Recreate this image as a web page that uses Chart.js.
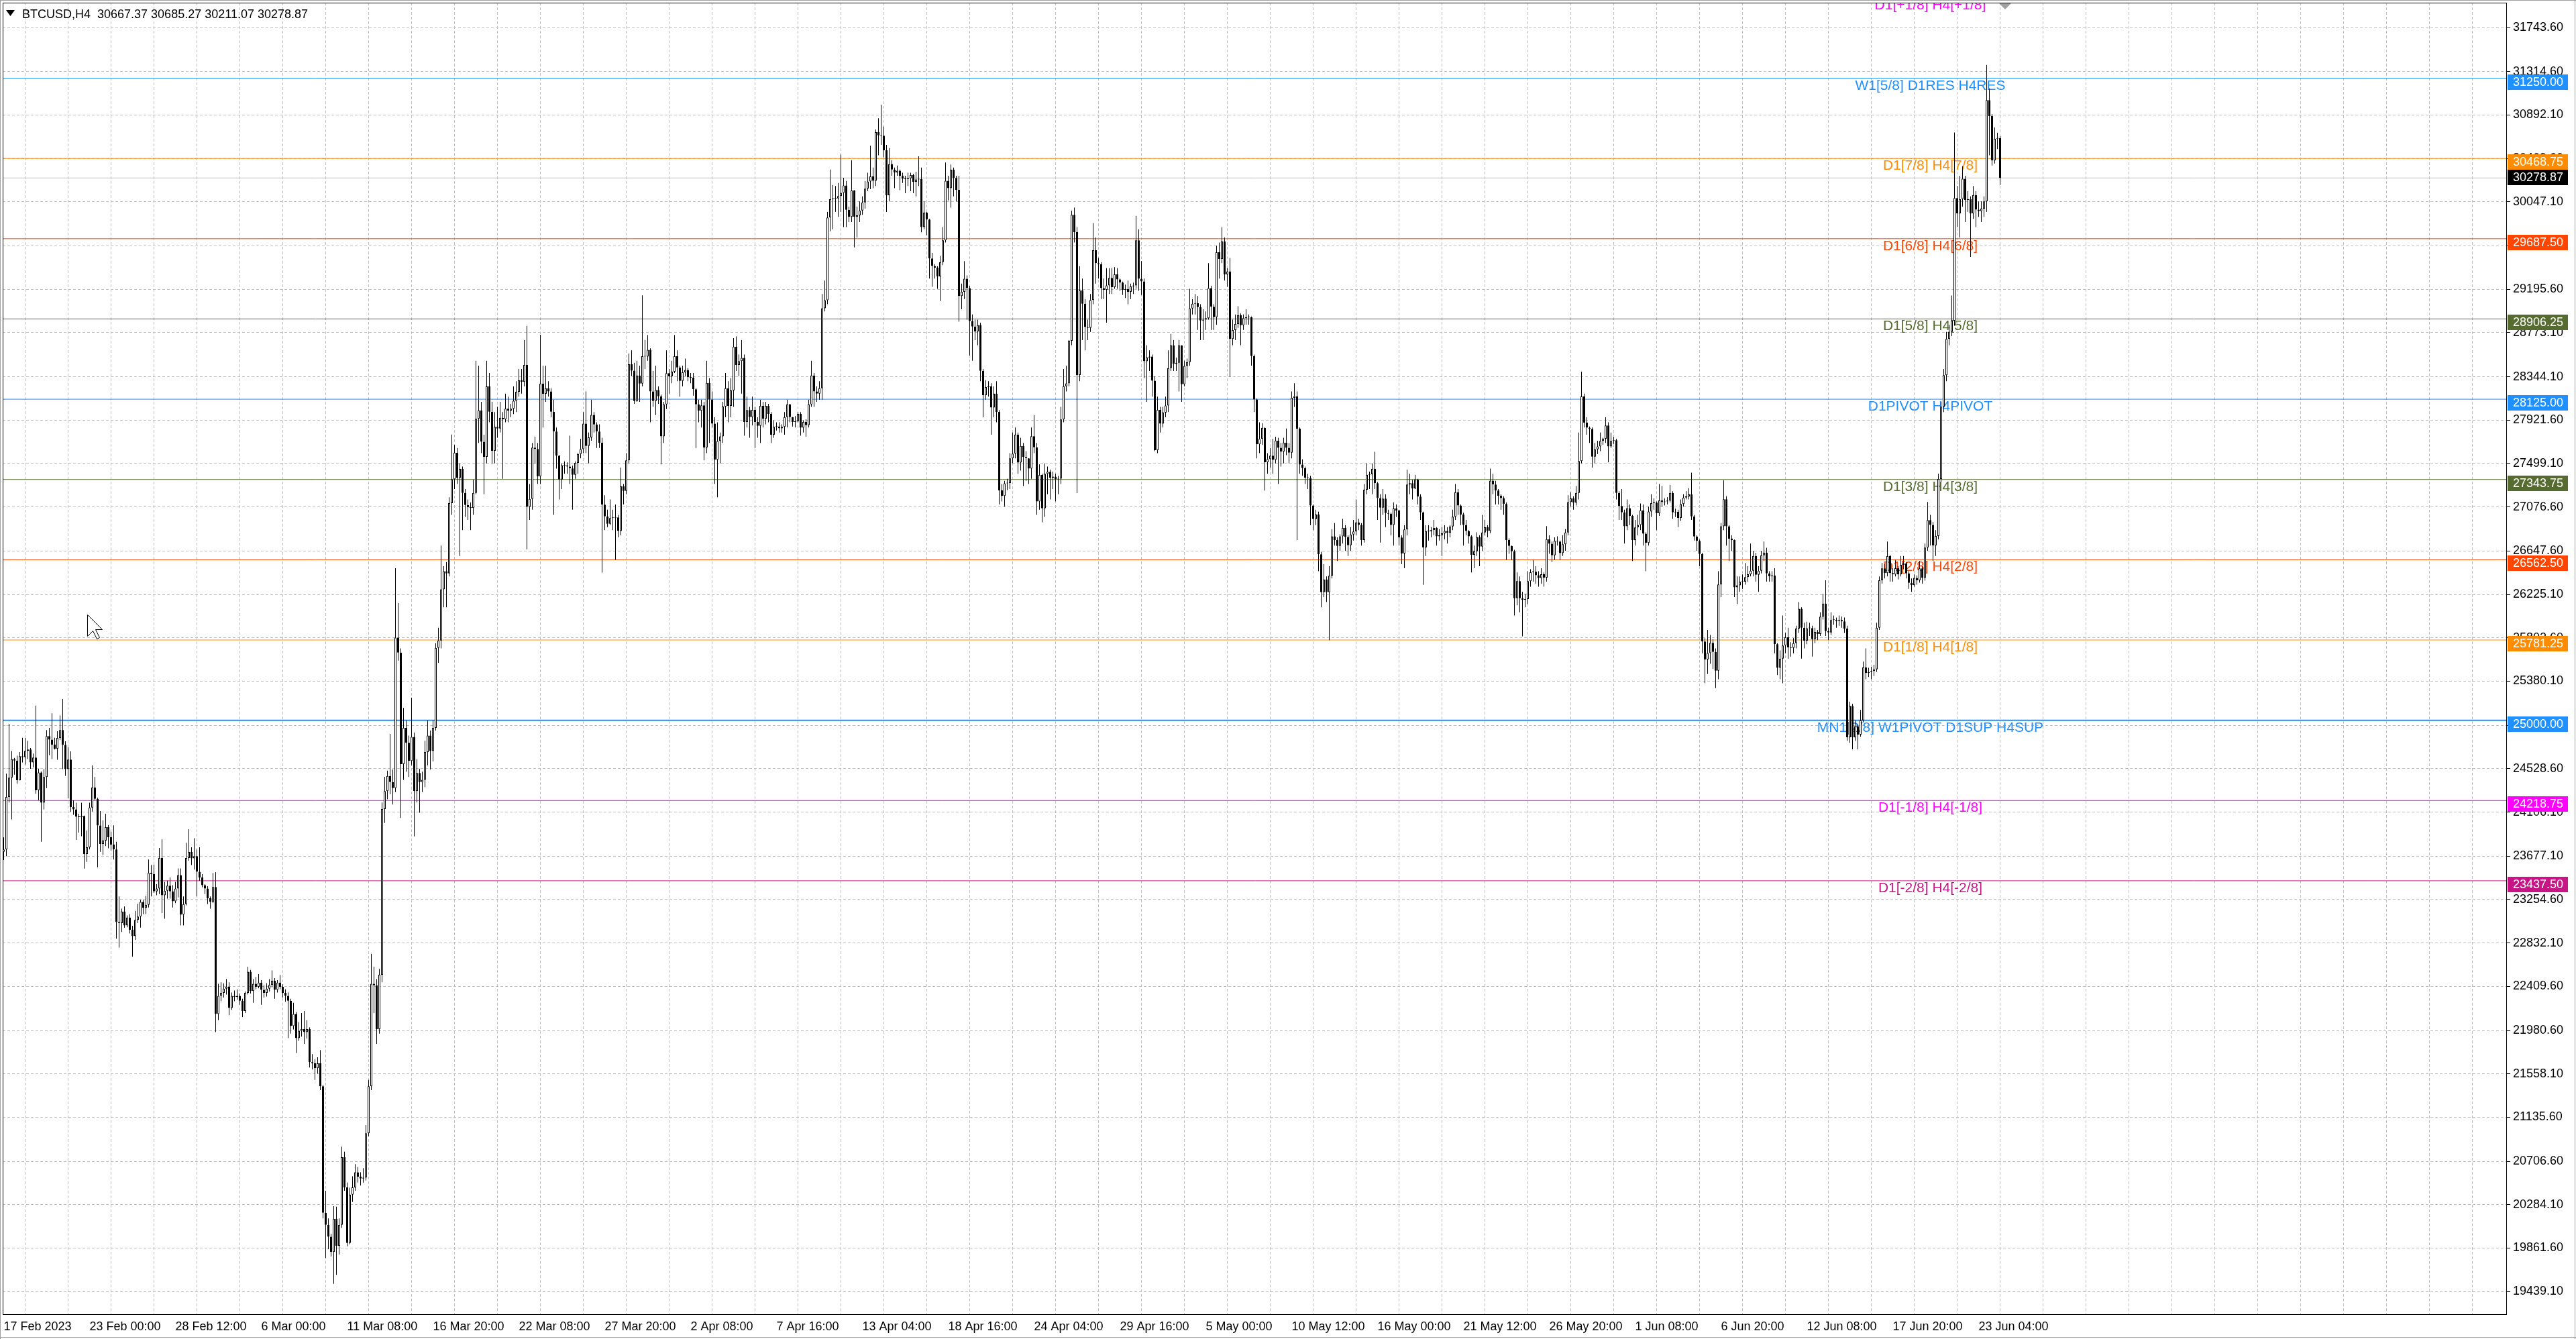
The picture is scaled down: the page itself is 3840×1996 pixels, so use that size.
<!DOCTYPE html>
<html>
<head>
<meta charset="utf-8">
<title>BTCUSD,H4</title>
<script src="https://cdn.jsdelivr.net/npm/chart.js@4.4.1/dist/chart.umd.min.js"></script>
<style>
  html, body { margin: 0; padding: 0; background: #ffffff; overflow: hidden; }
  canvas { display: block; }
</style>
</head>
<body>
<canvas id="chart" width="3840" height="1996" style="width:3840px;height:1996px"></canvas>
<script>
/* ============================================================
   BTCUSD H4 candles + Murrey levels, MT4 look
   ============================================================ */

// ── Data: H4 bars, 17 Feb 2023 → 24 Jun 2023 ──────────────
const firstOpen = 23720;

const closes = [
  /*   0 */ 23742,24253,24441,24622,24607,24415,24650,24640,24702,24715,24589,24637,24318,24492,24198,24448,
  /*  16 */ 24846,24811,24763,24724,24828,24904,24759,24524,24618,24155,24133,24061,24057,24068,23699,23764,
  /*  32 */ 24150,24346,24235,23975,23796,23829,23959,23862,23790,23742,23036,23025,23138,23003,23079,22960,
  /*  48 */ 22899,23057,23090,23231,23173,23203,23514,23503,23334,23362,23659,23297,23340,23390,23334,23238,
  /*  64 */ 23362,23492,23107,23210,23659,23720,23655,23677,23525,23470,23394,23362,23268,23231,23377,22141,
  /*  80 */ 22317,22346,22387,22405,22200,22317,22305,22317,22270,22170,22346,22552,22364,22435,22405,22446,
  /*  96 */ 22376,22346,22387,22423,22464,22376,22446,22405,22346,22317,22270,22024,22141,21906,21977,21994,
  /* 112 */ 21965,21994,21672,21660,21613,21660,21437,20206,20089,19972,19825,20148,19884,20089,20746,20452,
  /* 128 */ 19913,20382,20452,20599,20558,20540,20547,20980,21437,22434,22420,21994,22522,24135,24310,24457,
  /* 144 */ 24398,24340,25805,25659,24574,24926,24780,24604,24838,24310,24486,24398,24420,24691,24850,24700,
  /* 160 */ 24926,25705,25776,26274,26450,26430,27113,27347,27605,27359,27447,27213,27095,27075,27066,27213,
  /* 176 */ 27934,28016,27711,27564,28250,28004,27623,27857,27840,27945,27930,28033,28015,28033,28110,28198,
  /* 192 */ 28309,28294,28459,27078,27155,27654,27640,27374,28278,28178,28231,28200,28004,27810,27576,27343,
  /* 208 */ 27483,27480,27470,27452,27389,27505,27592,27639,27888,27670,27754,27972,27879,27810,27701,27099,
  /* 224 */ 26984,26912,26968,26972,26975,26843,27279,27233,27530,28465,28403,28107,28356,28278,28543,28540,
  /* 240 */ 28606,28200,28107,28216,28153,27764,28075,28378,28347,28394,28543,28434,28303,28387,28409,28340,
  /* 256 */ 28334,28222,28075,28013,28066,27654,28284,28122,27888,27536,27717,27763,28054,28231,28060,28210,
  /* 272 */ 28637,28459,28496,28528,27904,28019,27951,28022,27904,27866,28060,27935,28060,27982,27779,27857,
  /* 288 */ 27860,27842,27857,27951,28075,27951,27904,27910,27982,27848,27904,27873,28075,28356,28200,28180,
  /* 304 */ 28231,29011,29089,29894,30071,30078,30080,30102,30134,30205,29968,29900,30156,29900,29915,29962,
  /* 320 */ 30040,30174,30244,30293,30252,30725,30693,30690,30549,30109,30414,30360,30333,30350,30298,30271,
  /* 336 */ 30268,30275,30306,30239,30265,30270,29801,29941,29874,29495,29422,29406,29320,29460,29671,30252,
  /* 352 */ 30179,30360,30279,30163,29130,29171,29298,29206,28887,28833,28784,28847,28401,28163,28244,28250,
  /* 368 */ 28044,28179,28001,27238,27184,27306,27310,27549,27595,27779,27508,27671,27563,27549,27449,27765,
  /* 384 */ 27657,27130,27387,27063,27400,27419,27360,27372,27346,27352,27928,28252,28279,28693,29920,29752,
  /* 400 */ 28360,29184,29055,28828,28820,29090,29576,29449,29440,29206,29190,29233,29306,29217,29341,29292,
  /* 416 */ 29260,29190,29198,29171,29225,29232,29671,29298,29271,28495,28530,28540,28306,27630,28022,27887,
  /* 432 */ 27995,28063,28428,28649,28468,28480,28649,28271,28449,28487,29009,29055,29060,29022,28892,28900,
  /* 448 */ 28914,29206,29026,28924,29555,29491,29660,29340,29369,28711,28799,28857,28944,28845,28915,28924,
  /* 464 */ 28924,28545,28123,27687,27739,27847,27512,27541,27576,27535,27722,27652,27614,27701,27652,27605,
  /* 480 */ 28138,28153,27838,27489,27454,27361,27358,27090,26959,27003,26616,26246,26371,26246,26406,26790,
  /* 496 */ 26755,26697,26790,26872,26784,26703,26808,26837,26924,26901,26755,27244,27390,27395,27448,27308,
  /* 512 */ 27163,27070,27157,27017,27010,26901,27061,27041,26779,26624,26857,27294,27308,27256,27343,27177,
  /* 528 */ 27023,26683,26843,26840,26850,26872,26790,26800,26819,26843,26825,26886,26982,27220,27090,27003,
  /* 544 */ 26901,26843,26790,26610,26645,26784,26691,26828,26878,26843,27332,27294,27236,27186,27163,27105,
  /* 560 */ 26755,26697,26645,26188,26354,26188,26173,26180,26354,26441,26445,26412,26383,26421,26389,26762,
  /* 576 */ 26719,26605,26746,26740,26627,26713,26827,27124,27159,27119,27213,27524,28151,27897,27848,27835,
  /* 592 */ 27565,27638,27665,27719,27740,27870,27665,27719,27725,27213,27086,27024,26889,27065,26989,26754,
  /* 608 */ 26876,26902,27043,26816,26727,27032,27113,27118,27016,27140,27124,27130,27138,27213,27024,27030,
  /* 624 */ 26970,27105,27167,27178,27200,26984,26789,26746,26619,25767,25592,25654,25754,25665,25483,26321,
  /* 640 */ 26889,27151,26889,26767,26754,26294,26313,26348,26350,26394,26421,26456,26600,26416,26456,26605,
  /* 656 */ 26632,26429,26402,26410,25740,25510,25600,25727,25807,25710,25705,25751,25892,26085,25900,25774,
  /* 672 */ 25895,25898,25790,25860,25840,26009,26136,25868,25854,25976,25978,25966,25976,25962,25892,24834,
  /* 688 */ 25140,24834,24943,24860,24999,25516,25460,25470,25480,25495,25901,26362,26479,26432,26597,26432,
  /* 704 */ 26420,26480,26420,26512,26525,26430,26338,26315,26385,26362,26479,26385,26681,26949,26902,26700,
  /* 720 */ 26794,27349,28053,28359,28711,28782,28890,30083,29933,30074,30271,30064,30074,29933,30112,29970,
  /* 736 */ 29956,29980,30050,31037,30882,30450,30661,30667.37,30278.87
];

const highs = [
  /*   0 */ 23860,24481,24965,24700,24633,24655,24690,24830,24828,24800,24730,24676,25143,24530,24502,24524,
  /*  16 */ 24905,24926,25068,24830,24893,25046,25206,24796,24737,24698,24220,24198,24090,24198,24072,23927,
  /*  32 */ 24198,24561,24448,24246,24116,24024,24090,23981,23916,23977,23818,23286,23166,23188,23100,23110,
  /*  48 */ 23000,23144,23214,23253,23253,23290,23644,23590,23594,23405,23757,23840,23427,23438,23470,23394,
  /*  64 */ 23427,23558,23558,23286,23807,23938,23764,23851,23742,23764,23503,23405,23384,23286,23514,23520,
  /*  80 */ 22434,22450,22440,22480,22450,22350,22370,22380,22340,22290,22360,22600,22570,22480,22500,22530,
  /*  96 */ 22470,22420,22440,22480,22565,22490,22470,22520,22430,22380,22350,22290,22250,22160,22060,22150,
  /* 112 */ 22170,22080,22010,21750,21700,21720,21790,21450,20420,20150,20000,20270,20265,20150,20850,20800,
  /* 128 */ 20500,20450,20560,20680,20650,20600,20640,21060,21500,22727,22600,22480,22580,24200,24450,24510,
  /* 144 */ 24867,24520,26480,26140,25700,25120,25000,24850,25220,24880,24620,24530,24500,24800,25000,24900,
  /* 160 */ 25000,25750,25900,26700,26500,26540,27170,27781,27680,27650,27500,27470,27250,27150,27120,27340,
  /* 176 */ 28500,28450,28100,27780,28500,28380,28100,28000,28050,28100,28000,28180,28150,28080,28250,28300,
  /* 192 */ 28420,28420,28700,28839,27300,27700,27760,27700,28752,28450,28450,28300,28230,28120,27850,27580,
  /* 208 */ 27500,27520,27510,27770,27480,27520,27600,27740,28000,28200,27800,28120,28000,27900,27880,27750,
  /* 224 */ 27190,27050,27150,27050,27100,27000,27460,27300,27600,28570,28600,28480,28500,28450,29136,28700,
  /* 240 */ 28750,28620,28400,28450,28250,28170,28100,28600,28420,28500,28750,28600,28450,28450,28520,28430,
  /* 256 */ 28380,28380,28230,28120,28120,28100,28500,28330,28200,27950,27900,27800,28100,28380,28300,28330,
  /* 272 */ 28720,28736,28560,28700,28560,28150,28050,28150,28050,27950,28120,28100,28100,28080,28000,27920,
  /* 288 */ 27900,27900,27880,28000,28120,28080,27950,27960,28000,28000,27920,27930,28120,28500,28380,28250,
  /* 304 */ 28300,29150,29280,29950,30360,30210,30200,30230,30508,30280,30250,30000,30450,30160,30000,30050,
  /* 320 */ 30100,30250,30330,30592,30380,30750,30860,30990,30780,30600,30570,30450,30380,30400,30360,30330,
  /* 336 */ 30300,30330,30330,30320,30340,30490,30380,30050,29950,29880,29550,29440,29420,29520,29800,30430,
  /* 352 */ 30300,30410,30380,30300,30300,29250,29470,29330,29230,28950,28900,28900,28870,28420,28310,28300,
  /* 368 */ 28280,28250,28300,28020,27300,27330,27350,27600,27800,27850,27800,27750,27700,27620,27550,27850,
  /* 384 */ 27970,27700,27490,27400,27500,27470,27440,27420,27400,27380,28050,28420,28450,28700,29960,29990,
  /* 400 */ 29800,29420,29300,29100,28900,29150,29840,29700,29500,29460,29300,29400,29400,29400,29410,29400,
  /* 416 */ 29300,29270,29240,29280,29250,29260,29910,29780,29470,29300,28650,28600,28560,28350,28150,28050,
  /* 432 */ 28050,28150,28600,28760,28700,28530,28700,28650,28500,28520,29200,29100,29150,29130,29050,29000,
  /* 448 */ 28980,29450,29230,29050,29620,29650,29797,29700,29400,29500,28900,28950,29030,28960,28950,29000,
  /* 464 */ 28950,28930,28560,28130,27900,27890,27850,27600,27650,27740,27760,27750,27700,27750,27840,27700,
  /* 480 */ 28200,28280,28200,27850,27540,27470,27400,27380,27100,27050,27030,26640,26520,26400,26500,26860,
  /* 496 */ 26920,26780,26810,26960,26900,26800,26880,26950,27150,26960,26920,27300,27500,27420,27500,27613,
  /* 512 */ 27320,27200,27250,27200,27050,27020,27120,27100,27050,26800,26900,27440,27400,27340,27390,27350,
  /* 528 */ 27200,27030,26900,26900,26880,26950,26880,26860,26880,26900,26880,26900,27050,27300,27250,27100,
  /* 544 */ 27020,26950,26850,26800,26700,26830,26800,27000,26950,26900,27450,27400,27330,27250,27200,27180,
  /* 560 */ 27120,26770,26700,26660,26440,26400,26250,26230,26450,26470,26560,26500,26450,26480,26440,26890,
  /* 576 */ 26800,26740,26780,26790,26750,26800,26860,27190,27220,27180,27280,27800,28394,28180,27950,27860,
  /* 592 */ 27850,27700,27720,27800,27750,27950,27900,27800,27760,27740,27230,27250,27050,27150,27100,27000,
  /* 608 */ 26950,27000,27110,27100,26830,27080,27200,27160,27130,27300,27280,27160,27170,27290,27230,27060,
  /* 624 */ 27050,27150,27200,27230,27260,27411,27000,26800,26760,26630,25800,25880,25830,25790,25700,26450,
  /* 640 */ 26920,27335,27180,26900,26800,26760,26400,26400,26420,26530,26500,26720,26650,26630,26500,26650,
  /* 656 */ 26740,26680,26450,26450,26480,25750,25680,26020,25850,25900,25760,25800,25920,26150,26100,25950,
  /* 672 */ 25960,25950,25920,25900,25880,26050,26230,26362,25900,26050,26020,26000,26020,26010,26000,25920,
  /* 688 */ 25180,25160,25000,24960,25100,25570,25700,25510,25520,25540,25950,26400,26530,26520,26740,26610,
  /* 704 */ 26480,26560,26500,26600,26600,26540,26450,26380,26420,26410,26550,26500,26720,27125,27000,26930,
  /* 720 */ 26850,27400,28100,28420,28780,28850,29134,30722,30200,30300,30393,30300,30150,30100,30200,30150,
  /* 736 */ 30050,30050,30100,31380,31150,30900,30770,30720,30685.27
];

const lows = [
  /*   0 */ 23640,23677,24200,24035,24470,24383,24502,24590,24568,24622,24528,24541,24285,24220,23818,24133,
  /*  16 */ 24340,24660,24622,24715,24616,24806,24524,24459,24240,24110,24080,23835,23905,23872,23557,23622,
  /*  32 */ 23742,24112,24220,23568,23720,23688,23775,23753,23731,23644,22873,22787,22940,22982,22985,22925,
  /*  48 */ 22699,22862,23025,22982,23112,23112,23177,23286,23318,23297,23308,23123,23068,23264,23264,23177,
  /*  64 */ 23220,23275,23003,23003,23198,23633,23590,23547,23286,23438,23373,23308,23210,23166,23220,21965,
  /*  80 */ 22080,22265,22300,22330,22130,22180,22265,22280,22230,22110,22150,22330,22340,22250,22380,22390,
  /*  96 */ 22230,22300,22310,22360,22400,22290,22350,22380,22300,22260,21906,21950,21990,21760,21880,21920,
  /* 112 */ 21850,21900,21620,21600,21500,21560,21400,20150,19767,19850,19780,19514,19600,19800,20060,20420,
  /* 128 */ 19880,19900,20310,20420,20500,20470,20500,20520,20950,21400,22150,21850,21950,22450,24000,24230,
  /* 144 */ 24280,24180,24300,25580,24050,24420,24500,24450,24560,23870,24200,24100,24300,24350,24560,24520,
  /* 160 */ 24600,24900,25560,25700,26100,26100,26400,27000,27250,27300,26600,26850,26980,26950,26850,27000,
  /* 176 */ 27200,27700,27600,27200,27500,27900,27500,27500,27750,27800,27350,27900,27900,27950,27980,28000,
  /* 192 */ 28150,28180,28250,26663,26950,27050,27500,27300,27300,27850,28100,28150,27950,27000,27450,27150,
  /* 208 */ 27250,27400,27400,27300,27050,27350,27400,27550,27600,27600,27500,27720,27800,27650,27650,26438,
  /* 224 */ 26850,26880,26900,26850,26560,26780,26800,27100,27200,27500,28350,28080,28100,28100,28250,28420,
  /* 240 */ 28500,27900,28050,27970,28080,27490,27700,28030,28180,28280,28380,28300,28150,28250,28350,28300,
  /* 256 */ 28280,28160,27650,27900,27850,27530,27600,27700,27850,27300,27171,27500,27700,27950,27900,27950,
  /* 272 */ 28050,28400,28350,28180,27770,27850,27750,27870,27650,27750,27700,27850,27880,27900,27700,27750,
  /* 288 */ 27820,27800,27800,27780,27850,27900,27860,27850,27900,27770,27800,27760,27850,28050,28050,28100,
  /* 304 */ 28120,28120,28980,29050,29760,29780,29950,29900,29950,29800,29800,29850,29850,29603,29700,29850,
  /* 320 */ 29920,29980,30150,30170,30180,30200,30500,30600,30480,29947,30050,30300,30180,30300,30160,30230,
  /* 336 */ 30130,30200,30150,30130,30100,30200,29750,29780,29720,29300,29220,29300,29200,29080,29430,29650,
  /* 352 */ 30060,29990,30100,30050,28880,29000,29100,28900,28550,28500,28700,28650,28300,27950,28120,28150,
  /* 368 */ 27780,27950,27900,27100,27130,27080,27240,27250,27500,27550,27400,27430,27280,27330,27300,27350,
  /* 384 */ 27600,27000,27050,26927,26980,27200,27150,27250,27130,27200,27300,27900,28200,28250,28650,29650,
  /* 400 */ 27211,28300,28700,28600,28700,28780,29050,29250,29300,29100,29100,28870,29150,29150,29200,29200,
  /* 416 */ 29180,29140,29110,29050,29100,29150,29200,29180,29140,28330,28100,28400,28150,27620,27600,27800,
  /* 432 */ 27850,27950,28000,28400,28400,28400,28200,28100,28250,28330,28450,28950,28950,28800,28700,28700,
  /* 448 */ 28800,28900,28800,28800,28850,29300,29450,29280,29220,28342,28650,28700,28820,28650,28800,28850,
  /* 464 */ 28850,28450,28000,27550,27600,27680,27236,27400,27460,27400,27500,27300,27470,27500,27580,27500,
  /* 480 */ 27550,28050,26755,27400,27380,27300,27250,26900,26850,26900,26450,26100,26200,26150,25780,26380,
  /* 496 */ 26700,26550,26650,26720,26650,26600,26650,26750,26800,26850,26700,26730,27200,27250,27200,27250,
  /* 512 */ 26950,26730,27000,26880,26950,26800,26700,26980,26700,26520,26480,26800,27200,27150,27250,27100,
  /* 528 */ 26950,26319,26600,26750,26780,26800,26700,26750,26600,26760,26720,26780,26850,26950,27000,26900,
  /* 544 */ 26700,26800,26720,26440,26480,26600,26500,26650,26800,26780,26820,27200,27100,27100,27050,27000,
  /* 560 */ 26560,26620,26560,26020,26120,26050,25818,26100,26130,26300,26350,26330,26300,26330,26300,26350,
  /* 576 */ 26620,26540,26560,26700,26560,26600,26650,26800,27080,27050,27090,27150,27500,27850,27780,27700,
  /* 592 */ 27460,27500,27590,27620,27680,27700,27510,27650,27690,27150,26950,26950,26720,26850,26900,26550,
  /* 608 */ 26700,26800,26850,26700,26450,26700,26980,27050,26850,26990,27080,27090,27100,27120,26960,26980,
  /* 624 */ 26880,26940,27080,27150,27150,26950,26750,26650,26500,25650,25362,25450,25550,25500,25313,25400,
  /* 640 */ 26200,26850,26700,26550,26650,26200,26130,26250,26280,26320,26350,26400,26400,26350,26250,26430,
  /* 656 */ 26550,26350,26350,26350,25650,25440,25400,25360,25650,25600,25620,25650,25700,25850,25600,25700,
  /* 672 */ 25740,25820,25620,25750,25780,25820,25980,25820,25780,25830,25930,25900,25920,25900,25850,24800,
  /* 688 */ 24780,24717,24800,24717,24840,24980,25400,25420,25400,25430,25470,25880,26330,26380,26400,26350,
  /* 704 */ 26350,26400,26370,26400,26470,26380,26280,26250,26300,26320,26340,26330,26360,26650,26700,26550,
  /* 720 */ 26600,26760,27320,28000,28300,28650,28740,28840,29800,29700,30000,29850,29950,29510,29880,29800,
  /* 736 */ 29900,29850,29900,29950,30500,30400,30420,30560,30211.07
];

// one time label every 32 bars
const timeLabels = [
  '17 Feb 2023', '23 Feb 00:00', '28 Feb 12:00', '6 Mar 00:00', '11 Mar 08:00', '16 Mar 20:00',
  '22 Mar 08:00', '27 Mar 20:00', '2 Apr 08:00', '7 Apr 16:00', '13 Apr 04:00', '18 Apr 16:00',
  '24 Apr 04:00', '29 Apr 16:00', '5 May 00:00', '10 May 12:00', '16 May 00:00', '21 May 12:00',
  '26 May 20:00', '1 Jun 08:00', '6 Jun 20:00', '12 Jun 08:00', '17 Jun 20:00', '23 Jun 04:00'
];

const priceTicks = [
  31743.60, 31314.60, 30892.10, 30469.60, 30047.10, 29618.10, 29195.60, 28773.10, 28344.10, 27921.60,
  27499.10, 27076.60, 26647.60, 26225.10, 25802.60, 25380.10, 24951.10, 24528.60, 24106.10, 23677.10,
  23254.60, 22832.10, 22409.60, 21980.60, 21558.10, 21135.60, 20706.60, 20284.10, 19861.60, 19439.10
];

const levelPrices = [32031.25, 31250.00, 30468.75, 29687.50, 28906.25, 28125.00,
                     27343.75, 26562.50, 25781.25, 25000.00, 24218.75, 23437.50];
const levelNames = [
  'D1[+1/8] H4[+1/8]', 'W1[5/8] D1RES H4RES', 'D1[7/8] H4[7/8]', 'D1[6/8] H4[6/8]',
  'D1[5/8] H4[5/8]', 'D1PIVOT H4PIVOT', 'D1[3/8] H4[3/8]', 'D1[2/8] H4[2/8]',
  'D1[1/8] H4[1/8]', 'MN1[2/8] W1PIVOT D1SUP H4SUP', 'D1[-1/8] H4[-1/8]', 'D1[-2/8] H4[-2/8]'
];

const lastQuote = [30667.37, 30685.27, 30211.07, 30278.87]; // O H L C of the last bar

// ── Styles ────────────────────────────────────────────────
const levelColors = ['#ff00ff', '#1e90ff', '#ff8c00', '#ff4500', '#556b2f', '#1e90ff',
                     '#556b2f', '#ff4500', '#ff8c00', '#1e90ff', '#ff00ff', '#c71585'];
const levelWidths = [1, 1, 1, 1, 1, 1, 1, 1, 1, 2, 1, 1];
const FONT = "'Liberation Sans', Arial, sans-serif";
const BARS_PER_GRID = 16;
const BARS_PER_LABEL = 32;
const X_MIN = -0.375, X_MAX = 932.875;   // 4 px per bar
const Y_MIN = 19212, Y_MAX = 31985;
const LEVEL_TEXT_BAR = 718;

// open of each bar = close of the previous one (24/7 market)
const opens = closes.map((c, i) => (i === 0 ? firstOpen : closes[i - 1]));
const bid = lastQuote[3];

// ── Datasets ──────────────────────────────────────────────
const bodySet = {
  type: 'bar',
  order: 0,
  grouped: false,
  data: closes.map((c, i) => ({ x: i, y: [opens[i], c] })),
  backgroundColor: closes.map((c, i) => (c >= opens[i] ? '#ffffff' : '#000000')),
  borderColor: '#000000',
  borderWidth: 1,
  borderSkipped: false,
  barThickness: 3,
  minBarLength: 1,
  inflateAmount: 0
};

const wickSet = {
  type: 'bar',
  order: 1,
  grouped: false,
  data: closes.map((c, i) => ({
    x: i,
    y: [Math.min(lows[i], opens[i], c), Math.max(highs[i], opens[i], c)]
  })),
  backgroundColor: '#000000',
  borderWidth: 0,
  barThickness: 1,
  inflateAmount: 0
};

const levelSets = levelPrices.map((p, k) => ({
  type: 'line',
  order: 2,
  data: [{ x: X_MIN, y: p }, { x: X_MAX, y: p }],
  borderColor: levelColors[k],
  borderWidth: levelWidths[k],
  pointRadius: 0,
  fill: false
}));

const bidSet = {
  type: 'line',
  order: 3,
  data: [{ x: X_MIN, y: bid }, { x: X_MAX, y: bid }],
  borderColor: '#c0c0c0',
  borderWidth: 1,
  pointRadius: 0,
  fill: false
};

// ── MT4 decorations ───────────────────────────────────────
const mt4Plugin = {
  id: 'mt4',
  beforeDatasetsDraw(chart) {
    const { ctx, chartArea: a, scales: { x, y } } = chart;
    ctx.save();
    ctx.beginPath();
    ctx.rect(a.left, a.top, a.right - a.left, a.bottom - a.top);
    ctx.clip();
    ctx.font = '21px ' + FONT;
    ctx.textAlign = 'center';
    ctx.textBaseline = 'alphabetic';
    const cx = x.getPixelForValue(LEVEL_TEXT_BAR);
    levelPrices.forEach((p, k) => {
      ctx.fillStyle = levelColors[k];
      ctx.fillText(levelNames[k], cx, y.getPixelForValue(p) + 17);
    });
    ctx.restore();
  },
  afterDraw(chart) {
    const { ctx, chartArea: a, scales: { y }, width, height } = chart;
    ctx.save();

    // window edges
    ctx.strokeStyle = '#a0a0a0';
    ctx.lineWidth = 1;
    ctx.beginPath();
    ctx.moveTo(0, 0.5); ctx.lineTo(width, 0.5);
    ctx.moveTo(0.5, 0); ctx.lineTo(0.5, height);
    ctx.moveTo(width - 1.5, 0); ctx.lineTo(width - 1.5, height);
    ctx.moveTo(0, height - 2.5); ctx.lineTo(width, height - 2.5);
    ctx.stroke();

    // plot frame
    ctx.strokeStyle = '#000000';
    ctx.strokeRect(a.left + 0.5, a.top + 0.5, a.right - a.left - 1, a.bottom - a.top - 1);

    // price boxes on the axis: level labels sit a little below their line,
    // the bid label is centred on it
    ctx.font = '18px ' + FONT;
    ctx.textAlign = 'left';
    ctx.textBaseline = 'middle';
    const boxes = levelPrices.map((p, k) => [p, levelColors[k], 6])
      .concat([[bid, '#000000', 0]]);
    boxes.forEach(([p, col, shift]) => {
      if (p > Y_MAX || p < Y_MIN) return;
      const py = Math.round(y.getPixelForValue(p)) + shift;
      ctx.fillStyle = col;
      ctx.fillRect(a.right + 1, py - 12, 90, 23);
      ctx.fillStyle = '#ffffff';
      ctx.fillText(p.toFixed(2), a.right + 9, py);
    });

    // title
    ctx.fillStyle = '#000000';
    ctx.beginPath();
    ctx.moveTo(9, 15); ctx.lineTo(22, 15); ctx.lineTo(15.5, 24); ctx.closePath();
    ctx.fill();
    ctx.font = '18px ' + FONT;
    ctx.textBaseline = 'alphabetic';
    ctx.fillText('BTCUSD,H4  ' + lastQuote.map(v => v.toFixed(2)).join(' '), 33, 27);

    // chart shift marker
    ctx.fillStyle = '#a0a0a0';
    ctx.beginPath();
    ctx.moveTo(2980, 5); ctx.lineTo(2998, 5); ctx.lineTo(2989, 14); ctx.closePath();
    ctx.fill();

    // mouse pointer
    const cur = [[0, 0], [0, 16], [4, 12], [7, 18], [9, 17], [6, 11], [11, 11]];
    ctx.beginPath();
    cur.forEach(([px, py], k) => {
      const X = 130.5 + px * 2, Y = 916.5 + py * 2;
      if (k === 0) ctx.moveTo(X, Y); else ctx.lineTo(X, Y);
    });
    ctx.closePath();
    ctx.fillStyle = '#ffffff';
    ctx.fill();
    ctx.strokeStyle = '#000000';
    ctx.stroke();

    ctx.restore();
  }
};

// ── Chart ─────────────────────────────────────────────────
Chart.defaults.font.family = FONT;

new Chart(document.getElementById('chart'), {
  type: 'bar',
  data: { datasets: [bodySet, wickSet, ...levelSets, bidSet] },
  options: {
    responsive: false,
    devicePixelRatio: 1,
    animation: false,
    events: [],
    layout: { padding: { left: 4, top: 4, right: 0, bottom: 0 } },
    plugins: {
      legend: { display: false },
      tooltip: { enabled: false }
    },
    scales: {
      x: {
        type: 'linear',
        min: X_MIN,
        max: X_MAX,
        offset: false,
        afterBuildTicks: (s) => {
          const t = [];
          for (let v = 0; v <= X_MAX; v += BARS_PER_GRID) t.push({ value: v });
          s.ticks = t;
        },
        afterFit: (s) => { s.height = 36; s.paddingLeft = 0; s.paddingRight = 0; },
        grid: { color: '#c0c0c0', lineWidth: 1, drawTicks: false },
        border: { display: false, dash: [4, 3] },
        ticks: {
          autoSkip: false,
          maxRotation: 0,
          minRotation: 0,
          align: 'start',
          padding: 7,
          color: '#000000',
          font: { family: FONT, size: 18 },
          callback: (v) => (v % BARS_PER_LABEL === 0 && timeLabels[v / BARS_PER_LABEL]) || ''
        }
      },
      y: {
        type: 'linear',
        position: 'right',
        min: Y_MIN,
        max: Y_MAX,
        afterBuildTicks: (s) => { s.ticks = priceTicks.map(v => ({ value: v })); },
        afterFit: (s) => { s.width = 103; s.paddingTop = 0; s.paddingBottom = 0; },
        grid: { color: '#c0c0c0', lineWidth: 1, drawTicks: true, tickLength: 5, tickColor: '#000000', tickBorderDash: [] },
        border: { display: false, dash: [4, 3] },
        ticks: {
          padding: 4,
          color: '#000000',
          font: { family: FONT, size: 18 },
          callback: (v) => v.toFixed(2)
        }
      }
    }
  },
  plugins: [mt4Plugin]
});
</script>
</body>
</html>
